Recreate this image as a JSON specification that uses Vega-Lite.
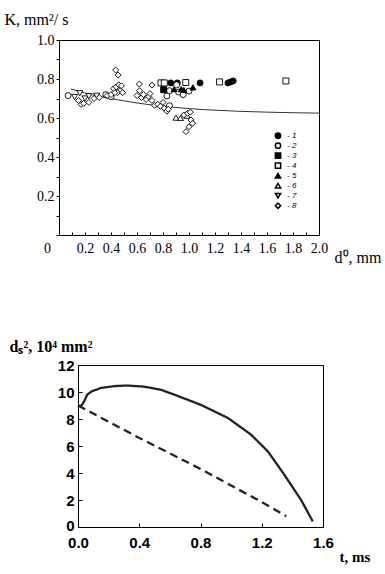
{
  "$schema": "https://vega.github.io/schema/vega-lite/v6.json",
  "padding": {"left": 3, "top": 10, "right": 0, "bottom": 5},
  "background": "white",
  "config": {
    "view": {"stroke": "black", "strokeWidth": 1},
    "axis": {"domainColor": "black", "tickColor": "black", "labelColor": "black", "titleColor": "black", "grid": false, "labelFlush": false, "labelOverlap": false, "labelBound": false}
  },
  "columns": 1,
  "spacing": 72,
  "datasets": {
    "curve": [
      {"d": 0.09, "K": 0.749}, {"d": 0.2, "K": 0.728}, {"d": 0.3, "K": 0.712}, {"d": 0.4, "K": 0.699},
      {"d": 0.5, "K": 0.688}, {"d": 0.6, "K": 0.677}, {"d": 0.7, "K": 0.668}, {"d": 0.8, "K": 0.661},
      {"d": 0.9, "K": 0.654}, {"d": 1.0, "K": 0.648}, {"d": 1.2, "K": 0.64}, {"d": 1.4, "K": 0.634},
      {"d": 1.6, "K": 0.63}, {"d": 1.8, "K": 0.627}, {"d": 2.0, "K": 0.625}
    ],
    "points": [
      {"d": 0.86, "K": 0.78, "s": "1"}, {"d": 0.91, "K": 0.78, "s": "1"}, {"d": 1.085, "K": 0.78, "s": "1"},
      {"d": 1.3, "K": 0.78, "s": "1"}, {"d": 1.32, "K": 0.785, "s": "1"}, {"d": 1.34, "K": 0.79, "s": "1"},
      {"d": 0.07, "K": 0.715, "s": "2"}, {"d": 0.36, "K": 0.72, "s": "2"}, {"d": 0.4, "K": 0.71, "s": "2"},
      {"d": 0.83, "K": 0.713, "s": "2"}, {"d": 0.85, "K": 0.663, "s": "2"}, {"d": 0.85, "K": 0.74, "s": "2"},
      {"d": 0.905, "K": 0.77, "s": "2"}, {"d": 0.92, "K": 0.733, "s": "2"}, {"d": 0.955, "K": 0.72, "s": "2"},
      {"d": 1.0, "K": 0.738, "s": "2"},
      {"d": 0.805, "K": 0.745, "s": "3"},
      {"d": 0.785, "K": 0.78, "s": "4"}, {"d": 0.81, "K": 0.78, "s": "4"}, {"d": 0.975, "K": 0.782, "s": "4"},
      {"d": 1.235, "K": 0.785, "s": "4"}, {"d": 1.745, "K": 0.79, "s": "4"},
      {"d": 0.885, "K": 0.748, "s": "5"}, {"d": 0.94, "K": 0.748, "s": "5"}, {"d": 0.96, "K": 0.744, "s": "5"},
      {"d": 1.03, "K": 0.757, "s": "5"},
      {"d": 0.9, "K": 0.602, "s": "6"}, {"d": 0.935, "K": 0.6, "s": "6"}, {"d": 0.985, "K": 0.612, "s": "6"},
      {"d": 0.12, "K": 0.708, "s": "7"}, {"d": 0.16, "K": 0.727, "s": "7"}, {"d": 0.2, "K": 0.7, "s": "7"},
      {"d": 0.23, "K": 0.712, "s": "7"}, {"d": 0.29, "K": 0.714, "s": "7"},
      {"d": 0.15, "K": 0.69, "s": "8"}, {"d": 0.17, "K": 0.67, "s": "8"}, {"d": 0.19, "K": 0.675, "s": "8"},
      {"d": 0.23, "K": 0.68, "s": "8"}, {"d": 0.27, "K": 0.7, "s": "8"}, {"d": 0.31, "K": 0.705, "s": "8"},
      {"d": 0.37, "K": 0.715, "s": "8"}, {"d": 0.4, "K": 0.72, "s": "8"}, {"d": 0.42, "K": 0.75, "s": "8"},
      {"d": 0.44, "K": 0.76, "s": "8"}, {"d": 0.436, "K": 0.846, "s": "8"}, {"d": 0.455, "K": 0.82, "s": "8"},
      {"d": 0.46, "K": 0.77, "s": "8"}, {"d": 0.47, "K": 0.74, "s": "8"}, {"d": 0.45, "K": 0.73, "s": "8"},
      {"d": 0.48, "K": 0.765, "s": "8"}, {"d": 0.49, "K": 0.73, "s": "8"}, {"d": 0.43, "K": 0.73, "s": "8"},
      {"d": 0.618, "K": 0.774, "s": "8"}, {"d": 0.715, "K": 0.769, "s": "8"}, {"d": 0.6, "K": 0.715, "s": "8"},
      {"d": 0.62, "K": 0.74, "s": "8"}, {"d": 0.635, "K": 0.705, "s": "8"}, {"d": 0.65, "K": 0.72, "s": "8"},
      {"d": 0.67, "K": 0.695, "s": "8"}, {"d": 0.69, "K": 0.71, "s": "8"}, {"d": 0.7, "K": 0.725, "s": "8"},
      {"d": 0.715, "K": 0.69, "s": "8"}, {"d": 0.735, "K": 0.665, "s": "8"}, {"d": 0.76, "K": 0.67, "s": "8"},
      {"d": 0.78, "K": 0.66, "s": "8"}, {"d": 0.8, "K": 0.68, "s": "8"}, {"d": 0.81, "K": 0.65, "s": "8"},
      {"d": 0.83, "K": 0.635, "s": "8"}, {"d": 0.84, "K": 0.645, "s": "8"},
      {"d": 0.96, "K": 0.615, "s": "8"}, {"d": 0.99, "K": 0.624, "s": "8"}, {"d": 1.01, "K": 0.63, "s": "8"},
      {"d": 1.015, "K": 0.59, "s": "8"}, {"d": 1.028, "K": 0.573, "s": "8"}, {"d": 1.0, "K": 0.555, "s": "8"},
      {"d": 0.977, "K": 0.53, "s": "8"}
    ],
    "ds": [
      {"t": 0.0, "v": 9.0, "s": "a"}, {"t": 0.02, "v": 8.95, "s": "a"}, {"t": 0.04, "v": 9.3, "s": "a"},
      {"t": 0.06, "v": 9.8, "s": "a"}, {"t": 0.09, "v": 10.05, "s": "a"}, {"t": 0.15, "v": 10.3, "s": "a"},
      {"t": 0.24, "v": 10.44, "s": "a"}, {"t": 0.32, "v": 10.48, "s": "a"}, {"t": 0.43, "v": 10.4, "s": "a"},
      {"t": 0.54, "v": 10.17, "s": "a"}, {"t": 0.63, "v": 9.8, "s": "a"}, {"t": 0.8, "v": 9.06, "s": "a"},
      {"t": 0.98, "v": 8.07, "s": "a"}, {"t": 1.13, "v": 6.84, "s": "a"}, {"t": 1.24, "v": 5.6, "s": "a"},
      {"t": 1.347, "v": 3.88, "s": "a"}, {"t": 1.457, "v": 2.0, "s": "a"}, {"t": 1.533, "v": 0.42, "s": "a"},
      {"t": 0.0, "v": 9.0, "s": "b"}, {"t": 0.4, "v": 6.6, "s": "b"}, {"t": 0.8, "v": 4.3, "s": "b"},
      {"t": 1.2, "v": 1.85, "s": "b"}, {"t": 1.36, "v": 0.8, "s": "b"}
    ]
  },
  "concat": [
    {
      "width": 260,
      "height": 195,
      "encoding": {
        "x": {
          "field": "d", "type": "quantitative",
          "scale": {"domain": [0, 2], "nice": false},
          "axis": {
            "title": "d⁰, mm",
            "values": [0, 0.1, 0.2, 0.3, 0.4, 0.5, 0.6, 0.7, 0.8, 0.9, 1.0, 1.1, 1.2, 1.3, 1.4, 1.5, 1.6, 1.7, 1.8, 1.9, 2.0],
            "labelExpr": "datum.value == 0 ? '0' : (abs(datum.value * 5 - round(datum.value * 5)) < 0.001 ? format(datum.value, '.1f') : '')",
            "labelOffset": {"condition": {"test": "datum.value == 0", "value": -12}, "value": 0},
            "tickSize": -3,
            "labelPadding": 9,
            "labelFont": "Liberation Serif", "labelFontSize": 14,
            "titleFont": "Liberation Serif", "titleFontSize": 16, "titleFontWeight": "normal",
            "titleAngle": 0, "titleX": 275, "titleY": 27, "titleAlign": "left", "titleBaseline": "alphabetic"
          }
        },
        "y": {
          "field": "K", "type": "quantitative",
          "scale": {"domain": [0, 1], "nice": false},
          "axis": {
            "title": "K, mm²/ s",
            "values": [0, 0.1, 0.2, 0.3, 0.4, 0.5, 0.6, 0.7, 0.8, 0.9, 1.0],
            "labelExpr": "datum.value == 0 ? '' : (abs(datum.value * 5 - round(datum.value * 5)) < 0.001 ? format(datum.value, '.1f') : '')",
            "tickSize": 3,
            "labelPadding": 2,
            "labelFont": "Liberation Serif", "labelFontSize": 14,
            "titleFont": "Liberation Serif", "titleFontSize": 16, "titleFontWeight": "normal",
            "titleAngle": 0, "titleX": -55, "titleY": -16, "titleAlign": "left", "titleBaseline": "alphabetic"
          }
        }
      },
      "layer": [
        {
          "data": {"name": "curve"},
          "mark": {"type": "line", "color": "#333", "strokeWidth": 1, "interpolate": "monotone"},
          "encoding": {}
        },
        {
          "data": {"name": "points"},
          "mark": {"type": "point", "filled": true, "stroke": "black", "strokeWidth": 0.9, "opacity": 1, "size": 36},
          "encoding": {
            "shape": {
              "field": "s", "type": "nominal",
              "scale": {"domain": ["1", "2", "3", "4", "5", "6", "7", "8"], "range": ["circle", "circle", "square", "square", "triangle-up", "triangle-up", "triangle-down", "diamond"]},
              "legend": {"title": null, "orient": "none", "legendX": 215, "legendY": 91, "padding": 0, "labelExpr": "'- ' + datum.label", "labelFont": "Liberation Sans", "labelFontStyle": "italic", "labelFontSize": 8, "symbolSize": 28, "rowPadding": 0, "clipHeight": 9.4, "labelOffset": 5,
                "encode": {"symbols": {"update": {"stroke": {"value": "black"}, "strokeWidth": {"value": 0.9}}}}}
            },
            "fill": {
              "field": "s", "type": "nominal",
              "scale": {"domain": ["1", "2", "3", "4", "5", "6", "7", "8"], "range": ["black", "white", "black", "white", "black", "white", "white", "white"]},
              "legend": {"title": null, "orient": "none", "legendX": 215, "legendY": 91, "padding": 0, "labelExpr": "'- ' + datum.label", "labelFont": "Liberation Sans", "labelFontStyle": "italic", "labelFontSize": 8, "symbolSize": 28, "rowPadding": 0, "clipHeight": 9.4, "labelOffset": 5,
                "encode": {"symbols": {"update": {"stroke": {"value": "black"}, "strokeWidth": {"value": 0.9}}}}}
            }
          }
        }
      ]
    },
    {
      "width": 264,
      "height": 162,
      "view": {"stroke": null},
      "data": {"name": "ds"},
      "layer": [
        {
          "mark": {"type": "line", "color": "#222", "strokeWidth": 2.3},
          "encoding": {
            "x": {
              "field": "t", "type": "quantitative",
              "scale": {"domain": [0, 1.6], "range": [19, 264], "nice": false},
              "axis": {
                "title": "t, ms",
                "values": [0, 0.4, 0.8, 1.2, 1.6],
                "format": ".1f",
                "tickSize": -4,
                "labelPadding": 12,
                "labelFont": "Liberation Sans", "labelFontSize": 15, "labelFontWeight": "bold",
                "titleFont": "Liberation Serif", "titleFontSize": 15, "titleFontWeight": "bold",
                "titleAngle": 0, "titleX": 280, "titleY": 34, "titleAlign": "left", "titleBaseline": "alphabetic"
              }
            },
            "y": {
              "field": "v", "type": "quantitative",
              "scale": {"domain": [0, 12], "nice": false},
              "axis": {
                "title": "dₛ², 10⁴ mm²",
                "offset": -19,
                "values": [0, 2, 4, 6, 8, 10, 12],
                "tickSize": -4,
                "labelPadding": 8,
                "labelOffset": {"condition": {"test": "datum.value == 0", "value": -2}, "value": 0},
                "labelFont": "Liberation Sans", "labelFontSize": 15, "labelFontWeight": "bold",
                "titleFont": "Liberation Serif", "titleFontSize": 16, "titleFontWeight": "bold",
                "titleAngle": 0, "titleX": -69, "titleY": -14, "titleAlign": "left", "titleBaseline": "alphabetic"
              }
            },
            "strokeDash": {
              "field": "s", "type": "nominal",
              "scale": {"domain": ["a", "b"], "range": [[1, 0], [8, 5]]},
              "legend": null
            }
          }
        },
        {
          "mark": {"type": "line", "opacity": 0},
          "encoding": {
            "x": {"field": "t", "type": "quantitative", "axis": {"orient": "top", "labels": false, "ticks": false, "title": null}},
            "y": {"field": "v", "type": "quantitative", "axis": {"orient": "right", "labels": false, "ticks": false, "title": null}},
            "detail": {"field": "s"}
          }
        }
      ],
      "resolve": {"axis": {"x": "independent", "y": "independent"}}
    }
  ]
}
